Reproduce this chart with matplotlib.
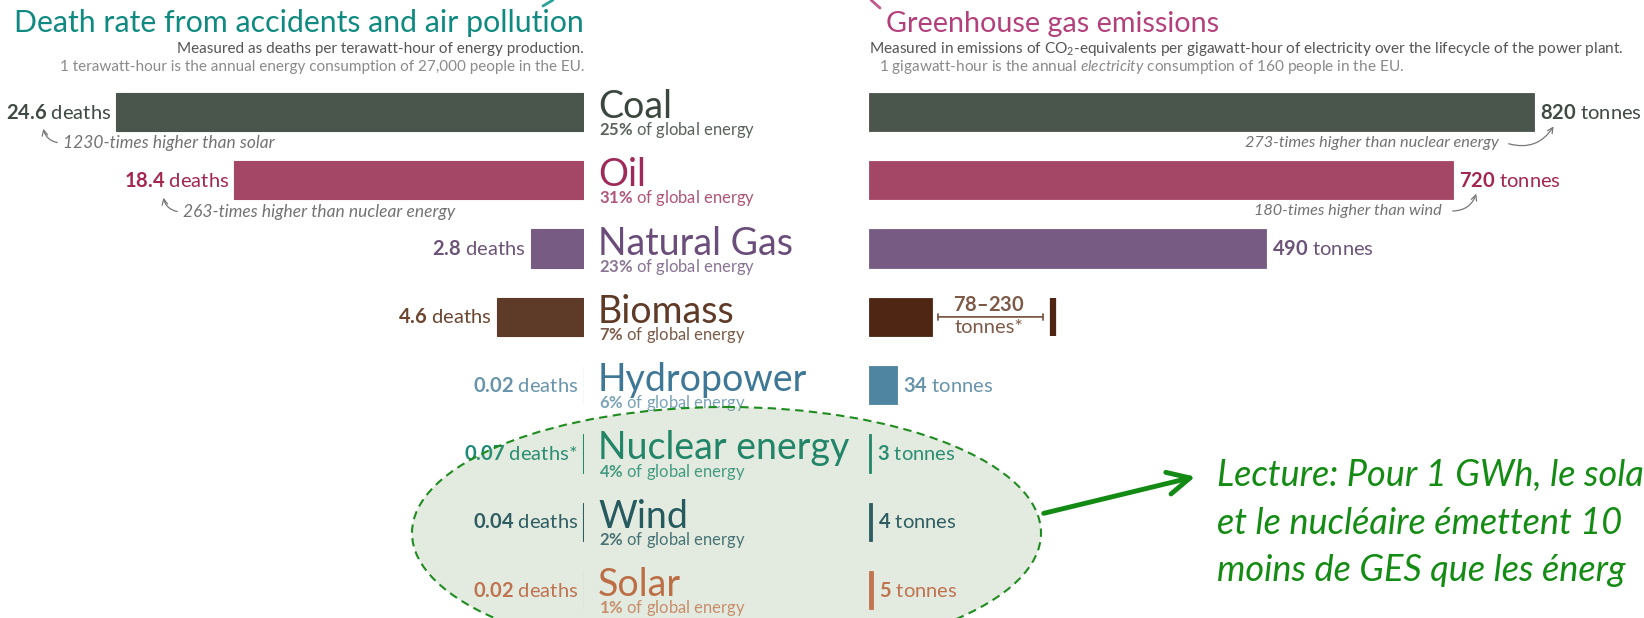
import matplotlib
matplotlib.use("Agg")
import matplotlib.pyplot as plt
from matplotlib.patches import Ellipse, FancyArrowPatch

plt.rcParams['font.family'] = ['Lato', 'DejaVu Sans']
plt.rcParams['mathtext.fontset'] = 'custom'
plt.rcParams['mathtext.rm'] = 'Lato'
plt.rcParams['mathtext.bf'] = 'Lato:bold'
plt.rcParams['mathtext.it'] = 'Lato:italic'
plt.rcParams['mathtext.default'] = 'regular'

# data
sources = ["Coal", "Oil", "Natural Gas", "Biomass", "Hydropower",
           "Nuclear energy", "Wind", "Solar"]
share = [25, 31, 23, 7, 6, 4, 2, 1]
deaths = [24.6, 18.4, 2.8, 4.6, 0.02, 0.07, 0.04, 0.02]
emissions = [820, 720, 490, 78, 34, 3, 4, 5]
biomass_high = 230

# colours
bar_col = ['#4a554c', '#a44665', '#775b82', '#5e3b29', '#4f85a0', '#138470', '#1d4f63', '#d56b4b']
bar_col_r = ['#4a554c', '#a44665', '#775b82', '#4f2614', '#4f85a0', '#138470', '#1d4f63', '#d56b4b']
name_col = ['#3b463e', '#9e2a5a', '#6a4d7a', '#5e3a27', '#3f7796', '#0f7f69', '#134a5e', '#cf6440']
sub_col = ['#59625b', '#b0557a', '#8a7494', '#7a5a48', '#7aa3b8', '#3a9a88', '#3e6878', '#dd8a6e']
val_col = ['#3f4a42', '#a3264f', '#6c5479', '#6b4530', '#6894ab', '#1a8a76', '#1f4e61', '#d2694a']

W, H = 1644, 618
ROW0, STEP = 112, 68.3
BAR_H = 0.56
rows = list(range(len(sources)))


def row_px(i):
    return ROW0 + STEP * i


fig = plt.figure(figsize=(W / 100, H / 100), dpi=100)
ax_l = fig.add_axes([0, 0, 584 / W, 1])
ax_r = fig.add_axes([869 / W, 0, (W - 869) / W, 1])
ax_o = fig.add_axes([0, 0, 1, 1], zorder=5)
for a in (ax_l, ax_r, ax_o):
    a.axis('off')
for a in (ax_l, ax_r):
    a.set_ylim((H - ROW0) / STEP, -ROW0 / STEP)
ax_o.set_xlim(0, W)
ax_o.set_ylim(H, 0)

ax_l.set_xlim(584 / 19.02, 0)
ax_r.set_xlim(0, (W - 869) / 0.811)

# bars
ax_l.barh(rows, deaths, height=BAR_H, color=bar_col, edgecolor=bar_col, linewidth=0.8)
ax_r.barh(rows, emissions, height=BAR_H, color=bar_col_r, edgecolor=bar_col_r, linewidth=0.6)

# value labels, left
for i, v in enumerate(deaths):
    star = "*" if sources[i] == "Nuclear energy" else ""
    ax_l.annotate(r"$\mathbf{%g}$ deaths%s" % (v, star), xy=(v, i), xytext=(-5, 0),
                  textcoords='offset pixels', ha='right', va='center',
                  fontsize=14.5, color=val_col[i])

# value labels, right
for i, v in enumerate(emissions):
    if sources[i] == "Biomass":
        continue
    ax_r.annotate(r"$\mathbf{%g}$ tonnes" % v, xy=(v, i), xytext=(6, 0),
                  textcoords='offset pixels', ha='left', va='center',
                  fontsize=14.5, color=val_col[i])

# biomass range
bi = sources.index("Biomass")
lo = emissions[bi]
ax_r.annotate("", xy=(biomass_high, bi), xytext=(lo, bi),
              arrowprops=dict(arrowstyle='|-|,widthA=0.2,widthB=0.2', shrinkA=4, shrinkB=9,
                              color='#7d5a48', lw=1.3))
ax_r.vlines(biomass_high - 3, bi - BAR_H / 2, bi + BAR_H / 2, color=bar_col_r[bi], lw=4.5)
mid = (lo + biomass_high) / 2
ax_r.annotate(r"$\mathbf{%d–%d}$" % (lo, biomass_high), xy=(mid - 6, bi), xytext=(0, 3),
              textcoords='offset pixels', ha='center', va='bottom', fontsize=14.5, color='#7d5a48')
ax_r.annotate("tonnes*", xy=(mid - 6, bi), xytext=(0, -2),
              textcoords='offset pixels', ha='center', va='top', fontsize=14.5, color='#7d5a48')

# category names
for i, s in enumerate(sources):
    y = row_px(i)
    ax_o.text(598, y + 6, s, fontsize=27, color=name_col[i], va='baseline', ha='left')
    ax_o.text(599, y + 23, r"$\mathbf{%d\%%}$ of global energy" % share[i], fontsize=12,
              color=sub_col[i], va='baseline', ha='left')

# titles
ax_o.text(584, 32, "Death rate from accidents and air pollution", fontsize=21.8,
          color='#0f8a80', ha='right', va='baseline')
ax_o.text(584, 53, "Measured as deaths per terawatt-hour of energy production.",
          fontsize=11, color='#555555', ha='right', va='baseline')
ax_o.text(584, 71, "1 terawatt-hour is the annual energy consumption of 27,000 people in the EU.",
          fontsize=11, color='#8a8a8a', ha='right', va='baseline')

ax_o.text(886, 32, "Greenhouse gas emissions", fontsize=20.7, color='#b3407b',
          ha='left', va='baseline')
ax_o.text(869, 53, "Measured in emissions of CO$_2$-equivalents per gigawatt-hour of electricity "
          "over the lifecycle of the power plant.", fontsize=11.1, color='#555555',
          ha='left', va='baseline')
ax_o.text(879, 71, r"1 gigawatt-hour is the annual $\mathit{electricity}$ consumption of 160 people in the EU.",
          fontsize=11.1, color='#8a8a8a', ha='left', va='baseline')

# little arrow fragments from the slide above
ax_o.plot([543, 553], [6, 0], color='#2aa39a', lw=2, solid_capstyle='round')
ax_o.plot([871, 880], [0, 8], color='#c05a8c', lw=2, solid_capstyle='round')

# side notes
note = dict(color='#737373', style='italic', va='baseline')
arr = dict(arrowstyle='->', color='#777777', lw=0.9)
ax_o.text(63, 148, "1230-times higher than solar", ha='left', fontsize=12.5, **note)
ax_o.annotate("", xy=(43, 126), xytext=(60, 143),
              arrowprops=dict(connectionstyle='arc3,rad=-0.4', **arr))
ax_o.text(183, 217, "263-times higher than nuclear energy", ha='left', fontsize=12.5, **note)
ax_o.annotate("", xy=(163, 195), xytext=(180, 212),
              arrowprops=dict(connectionstyle='arc3,rad=-0.4', **arr))
ax_o.text(1499, 147, "273-times higher than nuclear energy", ha='right', fontsize=11.7, **note)
ax_o.annotate("", xy=(1555, 124), xytext=(1506, 143),
              arrowprops=dict(connectionstyle='arc3,rad=0.4', **arr))
ax_o.text(1442, 215, "180-times higher than wind", ha='right', fontsize=11.7, **note)
ax_o.annotate("", xy=(1477, 191), xytext=(1450, 211),
              arrowprops=dict(connectionstyle='arc3,rad=0.4', **arr))

# highlight ellipse and comment
ell = Ellipse((726.5, 533), 629, 252, facecolor=(0.45, 0.62, 0.40, 0.2),
              edgecolor='#1f8c1f', lw=1.5, linestyle=(0, (4, 2.6)), zorder=6)
ax_o.add_patch(ell)
ax_o.add_patch(FancyArrowPatch((1041, 514), (1198, 476), arrowstyle='->,head_length=1.6,head_width=0.8',
                               mutation_scale=10, color='#138a13', lw=3.5, zorder=6))
green = '#148c14'
for k, line in enumerate(["Lecture: Pour 1 GWh, le sola",
                          "et le nucléaire émettent 10",
                          "moins de GES que les énerg"]):
    ax_o.text(1217, 486 + 47.7 * k, line, fontsize=26, color=green, style='italic',
              ha='left', va='baseline')

fig.savefig('out.png', dpi=100)
